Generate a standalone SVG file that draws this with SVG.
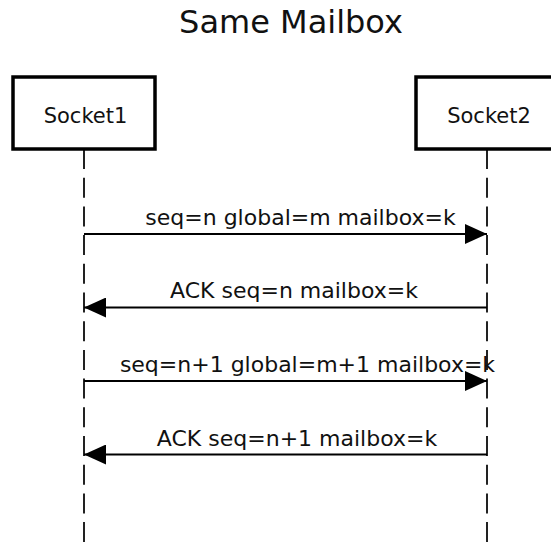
<svg xmlns="http://www.w3.org/2000/svg" width="551" height="544" viewBox="0 0 551 544">
  <style>
    text { font-family: "DejaVu Sans", "Liberation Sans", sans-serif; fill: #111; }
    .title { font-size: 32px; text-anchor: middle; }
    .actor rect { fill: #fff; stroke: #000; stroke-width: 3.5; }
    .actor text { font-size: 21px; text-anchor: middle; }
    .lifeline { stroke: #222; stroke-width: 2; stroke-dasharray: 20 8.7; fill: none; }
    .msg line { stroke: #000; stroke-width: 1.8; }
    .msg text { font-size: 22px; text-anchor: middle; }
  </style>
  <defs>
    <marker id="head" viewBox="0 0 22 20" refX="22" refY="10" markerWidth="22" markerHeight="20" markerUnits="userSpaceOnUse" orient="auto">
      <path d="M0,0 L22,10 L0,20 Z" fill="#000"/>
    </marker>
  </defs>

  <rect width="551" height="544" fill="#fff"/>

  <text class="title" x="291" y="33">Same Mailbox</text>

  <g id="lifelines">
    <line class="lifeline" x1="84" y1="149" x2="84" y2="544"/>
    <line class="lifeline" x1="487" y1="149" x2="487" y2="544"/>
  </g>

  <g id="socket1" class="actor">
    <rect x="13" y="77" width="142" height="72"/>
    <text x="85.5" y="123">Socket1</text>
  </g>

  <g id="socket2" class="actor">
    <rect x="416" y="77" width="142" height="72"/>
    <text x="489" y="123">Socket2</text>
  </g>

  <g id="messages" class="msg">
    <g id="msg1">
      <line x1="84" y1="234" x2="487" y2="234" marker-end="url(#head)"/>
      <text x="300.5" y="225">seq=n global=m mailbox=k</text>
    </g>
    <g id="msg2">
      <line x1="487" y1="307.5" x2="84" y2="307.5" marker-end="url(#head)"/>
      <text x="294" y="298">ACK seq=n mailbox=k</text>
    </g>
    <g id="msg3">
      <line x1="84" y1="381" x2="487" y2="381" marker-end="url(#head)"/>
      <text x="307.5" y="372">seq=n+1 global=m+1 mailbox=k</text>
    </g>
    <g id="msg4">
      <line x1="487" y1="454.5" x2="84" y2="454.5" marker-end="url(#head)"/>
      <text x="297" y="446">ACK seq=n+1 mailbox=k</text>
    </g>
  </g>
</svg>
